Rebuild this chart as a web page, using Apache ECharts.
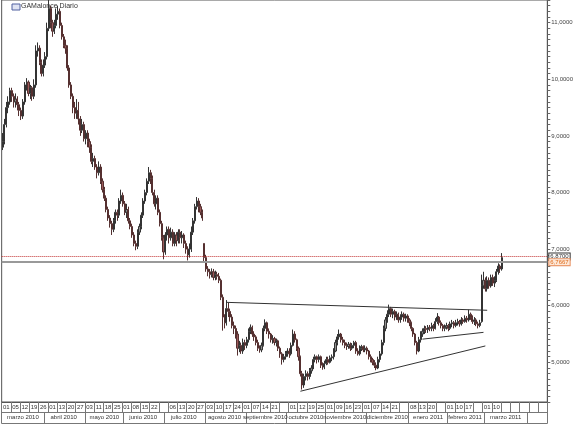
<!DOCTYPE html>
<html><head><meta charset="utf-8">
<script src="https://cdn.jsdelivr.net/npm/echarts@6/dist/echarts.min.js"></script>
<style>html,body{margin:0;padding:0;background:#fff}#c{width:576px;height:424px}</style>
</head><body><div id="c"></div>
<script>
// Week cells (Mon-Fri) label texts, in order from 2010-03-01
const tickCells = ["01","05","12","19","26","01","13","20","27","03","11","18","25","01","08","15","22","",
  "06","13","20","27","03","10","17","24","01","07","14","21","","01","12","19","25","01","09","16","23",
  "01","07","14","21","","08","13","20","","01","10","17","","01","10","","","","",""];
const monthLabels = ["marzo 2010","abril 2010","mayo 2010","junio 2010","julio 2010","agosto 2010",
  "septiembre 2010","octubre 2010","noviembre 2010","diciembre 2010","enero 2011","febrero 2011","marzo 2011"];
const titleText = "GAMalonce Diario";
// [open, close, low, high]
const ohlc = [
[8.80,8.90,8.75,9.05],[8.90,9.20,8.85,9.30],[9.20,9.50,9.15,9.60],[9.50,9.60,9.40,9.70],[9.60,9.80,9.55,9.85],
[9.80,9.70,9.60,9.85],[9.70,9.60,9.50,9.75],[9.60,9.65,9.50,9.75],[9.65,9.55,9.45,9.70],[9.55,9.45,9.35,9.60],
[9.45,9.35,9.28,9.50],[9.35,9.60,9.30,9.65],[9.60,9.90,9.55,9.95],[9.90,9.95,9.80,10.02],[9.95,9.75,9.70,9.98],
[9.75,9.85,9.65,9.90],[9.85,9.70,9.62,9.88],[9.70,9.90,9.65,10.00],[9.90,10.50,9.85,10.60],[10.50,10.55,10.40,10.65],
[10.55,10.30,10.25,10.60],[10.30,10.10,10.05,10.35],[10.10,10.25,10.05,10.35],[10.25,10.40,10.20,10.48],[10.40,10.90,10.35,11.00],
[10.90,11.25,10.85,11.40],[11.25,11.00,10.90,11.30],[11.00,10.85,10.75,11.05],[10.85,10.95,10.80,11.05],[10.95,11.15,10.90,11.25],
[11.15,11.20,11.05,11.30],[11.20,10.95,10.90,11.25],[10.95,10.75,10.70,11.00],[10.75,10.60,10.55,10.80],[10.60,10.55,10.45,10.70],
[10.55,10.20,10.15,10.60],[10.20,9.90,9.85,10.25],[9.90,9.70,9.65,9.95],[9.70,9.50,9.40,9.75],[9.50,9.40,9.30,9.60],
[9.40,9.45,9.30,9.65],[9.45,9.30,9.20,9.60],[9.30,9.10,9.00,9.35],[9.10,9.20,9.05,9.30],[9.20,8.95,8.90,9.25],
[8.95,9.05,8.85,9.10],[9.05,8.90,8.80,9.10],[8.90,8.80,8.70,8.95],[8.80,8.55,8.50,8.85],[8.55,8.60,8.45,8.70],
[8.60,8.45,8.40,8.65],[8.45,8.35,8.25,8.50],[8.35,8.45,8.30,8.55],[8.45,8.20,8.15,8.50],[8.20,8.05,8.00,8.25],
[8.05,7.90,7.85,8.10],[7.90,7.70,7.65,7.95],[7.70,7.55,7.50,7.75],[7.55,7.45,7.38,7.60],[7.45,7.35,7.25,7.50],
[7.35,7.50,7.30,7.55],[7.50,7.65,7.45,7.70],[7.65,7.60,7.50,7.70],[7.60,7.85,7.55,7.90],[7.85,7.95,7.80,8.05],
[7.95,7.80,7.75,8.00],[7.80,7.65,7.60,7.85],[7.65,7.70,7.55,7.80],[7.70,7.50,7.45,7.75],[7.50,7.40,7.35,7.55],
[7.40,7.25,7.20,7.45],[7.25,7.10,7.05,7.30],[7.10,7.05,6.98,7.15],[7.05,7.30,7.00,7.35],[7.30,7.40,7.25,7.45],
[7.40,7.60,7.35,7.65],[7.60,7.85,7.55,7.90],[7.85,8.00,7.80,8.05],[8.00,8.20,7.95,8.25],[8.20,8.35,8.15,8.45],
[8.35,8.25,8.15,8.40],[8.25,8.00,7.95,8.30],[8.00,7.80,7.75,8.05],[7.80,7.90,7.70,7.95],[7.90,7.65,7.60,7.95],
[7.65,7.45,7.40,7.70],[7.45,7.20,7.15,7.50],[7.20,6.95,6.82,7.25],[6.95,7.25,6.90,7.30],[7.25,7.35,7.15,7.40],
[7.35,7.20,7.10,7.40],[7.20,7.30,7.15,7.38],[7.30,7.10,7.05,7.35],[7.10,7.25,7.05,7.30],[7.25,7.15,7.05,7.30],
[7.15,7.30,7.10,7.35],[7.30,7.20,7.10,7.35],[7.20,7.25,7.10,7.32],[7.25,7.10,7.02,7.28],[7.10,7.00,6.92,7.15],
[7.00,6.90,6.80,7.05],[6.90,7.00,6.85,7.10],[7.00,7.30,6.95,7.40],[7.30,7.50,7.25,7.55],[7.50,7.75,7.45,7.80],
[7.75,7.85,7.70,7.92],[7.85,7.75,7.65,7.90],[7.75,7.65,7.60,7.80],[7.65,7.55,7.50,7.70],[7.10,6.85,6.78,7.10],
[6.85,6.65,6.60,6.90],[6.65,6.60,6.52,6.70],[6.60,6.55,6.48,6.65],[6.55,6.60,6.50,6.66],[6.60,6.50,6.45,6.65],
[6.50,6.55,6.45,6.62],[6.55,6.52,6.46,6.60],[6.52,6.45,6.40,6.58],[6.45,6.15,6.10,6.48],[6.15,5.80,5.56,6.20],
[5.80,5.70,5.60,5.85],[5.70,5.95,5.65,6.10],[5.95,5.90,5.80,6.05],[5.90,5.80,5.72,5.95],[5.80,5.65,5.60,5.85],
[5.65,5.60,5.50,5.72],[5.60,5.50,5.42,5.65],[5.50,5.25,5.12,5.55],[5.25,5.30,5.18,5.38],[5.30,5.20,5.15,5.35],
[5.20,5.35,5.15,5.42],[5.35,5.30,5.22,5.40],[5.30,5.40,5.25,5.45],[5.40,5.55,5.35,5.60],[5.55,5.62,5.50,5.67],
[5.62,5.50,5.45,5.65],[5.50,5.45,5.38,5.55],[5.45,5.35,5.30,5.48],[5.35,5.25,5.20,5.40],[5.25,5.22,5.17,5.30],
[5.22,5.30,5.18,5.35],[5.30,5.60,5.28,5.65],[5.60,5.70,5.55,5.76],[5.70,5.55,5.50,5.72],[5.55,5.50,5.42,5.60],
[5.50,5.40,5.35,5.52],[5.40,5.42,5.33,5.48],[5.42,5.35,5.30,5.45],[5.35,5.38,5.28,5.42],[5.38,5.25,5.20,5.40],
[5.25,5.15,5.08,5.28],[5.15,5.05,4.96,5.18],[5.05,5.10,5.00,5.15],[5.10,5.15,5.05,5.20],[5.15,5.20,5.10,5.25],
[5.20,5.15,5.08,5.25],[5.15,5.30,5.12,5.35],[5.30,5.50,5.28,5.58],[5.50,5.40,5.35,5.55],[5.40,5.25,5.20,5.42],
[5.25,5.10,5.03,5.28],[5.10,4.80,4.75,5.12],[4.80,4.60,4.52,4.85],[4.60,4.75,4.55,4.80],[4.75,4.80,4.68,4.86],
[4.80,4.75,4.68,4.84],[4.75,4.85,4.70,4.90],[4.85,4.90,4.80,4.95],[4.90,5.05,4.88,5.10],[5.05,5.10,5.00,5.14],
[5.10,5.05,4.98,5.12],[5.05,5.10,5.00,5.14],[5.10,4.95,4.90,5.12],[4.95,4.92,4.87,5.00],[4.92,4.98,4.88,5.03],
[4.98,5.05,4.95,5.10],[5.05,5.00,4.96,5.10],[5.00,5.08,4.98,5.12],[5.08,5.10,5.02,5.14],[5.10,5.20,5.05,5.25],
[5.20,5.35,5.18,5.40],[5.35,5.45,5.30,5.50],[5.45,5.50,5.40,5.58],[5.50,5.40,5.35,5.52],[5.40,5.35,5.30,5.45],
[5.35,5.30,5.25,5.40],[5.30,5.28,5.22,5.35],[5.28,5.32,5.24,5.36],[5.32,5.25,5.20,5.35],[5.25,5.30,5.22,5.34],
[5.30,5.35,5.25,5.38],[5.35,5.20,5.15,5.38],[5.20,5.15,5.12,5.25],[5.15,5.25,5.12,5.30],[5.25,5.28,5.20,5.31],
[5.28,5.22,5.18,5.30],[5.22,5.25,5.18,5.30],[5.25,5.20,5.14,5.28],[5.20,5.10,5.05,5.22],[5.10,5.05,5.00,5.14],
[5.05,5.00,4.95,5.08],[5.00,4.95,4.90,5.04],[4.95,4.90,4.86,5.00],[4.90,5.05,4.88,5.10],[5.05,5.15,5.00,5.20],
[5.15,5.35,5.12,5.40],[5.35,5.60,5.30,5.65],[5.60,5.75,5.55,5.80],[5.75,5.85,5.70,5.92],[5.85,5.95,5.80,6.02],
[5.95,5.85,5.80,5.98],[5.85,5.90,5.78,5.95],[5.90,5.80,5.74,5.93],[5.80,5.85,5.75,5.90],[5.85,5.75,5.70,5.88],
[5.75,5.80,5.70,5.85],[5.80,5.85,5.75,5.90],[5.85,5.78,5.72,5.88],[5.78,5.82,5.72,5.86],[5.82,5.75,5.70,5.85],
[5.75,5.70,5.64,5.78],[5.70,5.60,5.55,5.72],[5.60,5.50,5.45,5.62],[5.50,5.35,5.30,5.52],[5.35,5.20,5.14,5.38],
[5.20,5.40,5.18,5.45],[5.40,5.50,5.35,5.55],[5.50,5.55,5.45,5.60],[5.55,5.60,5.50,5.65],[5.60,5.58,5.52,5.64],
[5.58,5.62,5.52,5.66],[5.62,5.60,5.55,5.66],[5.60,5.65,5.55,5.70],[5.65,5.60,5.55,5.68],[5.60,5.72,5.58,5.78],
[5.72,5.80,5.68,5.87],[5.80,5.70,5.65,5.82],[5.70,5.65,5.60,5.74],[5.65,5.60,5.55,5.68],[5.60,5.62,5.55,5.67],
[5.62,5.65,5.58,5.70],[5.65,5.60,5.55,5.68],[5.60,5.68,5.57,5.72],[5.68,5.70,5.62,5.75],[5.70,5.65,5.60,5.73],
[5.65,5.70,5.62,5.75],[5.70,5.72,5.65,5.77],[5.72,5.68,5.63,5.75],[5.68,5.75,5.65,5.80],[5.75,5.72,5.68,5.78],
[5.72,5.78,5.70,5.83],[5.78,5.75,5.70,5.82],[5.75,5.85,5.72,5.93],[5.85,5.80,5.75,5.88],[5.80,5.72,5.68,5.83],
[5.72,5.75,5.66,5.80],[5.75,5.68,5.64,5.78],[5.68,5.65,5.60,5.72],[5.65,5.70,5.62,5.75],[5.72,6.35,5.70,6.55],
[6.35,6.45,6.30,6.60],[6.45,6.30,6.25,6.50],[6.30,6.45,6.25,6.52],[6.45,6.35,6.30,6.50],[6.35,6.50,6.32,6.55],
[6.50,6.40,6.35,6.55],[6.40,6.45,6.33,6.52],[6.45,6.60,6.42,6.65],[6.60,6.70,6.55,6.75],[6.70,6.65,6.58,6.73],
[6.65,6.85,6.62,6.93]
];
const levelDotted = 6.87;
const levelSolid = 6.7667;
const trendLines = [
  [["2010-08-17", 6.06], ["2011-03-02", 5.92]],
  [["2010-10-12", 4.49], ["2011-03-01", 5.29]],
  [["2011-01-12", 5.41], ["2011-02-28", 5.53]]
];

// trading-day calendar (Mon-Fri)
const dates = [];
const start = Date.UTC(2010, 2, 1);
for (let w = 0; w < tickCells.length; w++) {
  for (let d = 0; d < 5; d++) {
    const t = new Date(start + (w * 7 + d) * 86400000);
    dates.push(t.toISOString().slice(0, 10));
  }
}
const monthStarts = new Set();
const monthMid = new Map();
{
  let s = 0, m = 0;
  for (let i = 1; i <= dates.length; i++) {
    if (i === dates.length || dates[i].slice(0, 7) !== dates[i - 1].slice(0, 7)) {
      monthStarts.add(s);
      monthMid.set(Math.floor((s + i - 1) / 2), monthLabels[m]);
      m++; s = i;
    }
  }
}
const fmtNum = v => v.toFixed(4).replace('.', ',');
const font = 'Liberation Sans, Arial, sans-serif';

const chart = echarts.init(document.getElementById('c'));
chart.setOption({
  animation: false,
  backgroundColor: '#ffffff',
  grid: { left: 0, right: 24, top: 0, bottom: 22, show: true, borderColor: '#555', borderWidth: 1 },
  graphic: [
    { type: 'rect', shape: { x: 12, y: 4, width: 8, height: 6 }, style: { fill: '#dfe3f3', stroke: '#5060a0', lineWidth: 1 } },
    { type: 'text', x: 21, y: 3, style: { text: titleText, fontSize: 7, fontFamily: font, fill: '#333' } }
  ],
  xAxis: [
    { type: 'category', data: dates, position: 'bottom', boundaryGap: true,
      axisLine: { show: true, lineStyle: { color: '#555', width: 1 } },
      axisTick: { show: true, length: 10, interval: i => i % 5 === 0, lineStyle: { color: '#777' } },
      axisLabel: { interval: i => i % 5 === 2 && tickCells[Math.floor(i / 5)] !== '', formatter: (v, i) => tickCells[Math.floor(i / 5)],
        fontSize: 6, fontFamily: font, color: '#333', margin: 2 },
      splitLine: { show: false } },
    { type: 'category', data: dates, position: 'bottom', offset: 10, boundaryGap: true,
      axisLine: { show: true, lineStyle: { color: '#777', width: 1 } },
      axisTick: { show: true, length: 11, interval: i => monthStarts.has(i), lineStyle: { color: '#777' } },
      axisLabel: { interval: i => monthMid.has(i), formatter: (v, i) => monthMid.get(i) || '',
        fontSize: 6, fontFamily: font, color: '#333', margin: 2 },
      splitLine: { show: false } },
    { type: 'category', data: dates, position: 'bottom', offset: 21, boundaryGap: true,
      axisLine: { show: true, lineStyle: { color: '#777', width: 1 } },
      axisTick: { show: false }, axisLabel: { show: false } }
  ],
  yAxis: {
    type: 'value', position: 'right', min: 4.3, max: 11.4, interval: 0.1, scale: true,
    axisLine: { show: true, lineStyle: { color: '#555' } },
    axisTick: { show: true, inside: false, length: 3, lineStyle: { color: '#666' } },
    axisLabel: { fontSize: 6, fontFamily: font, color: '#444', margin: 4,
      formatter: v => Math.abs(v - Math.round(v)) < 1e-6 ? fmtNum(Math.round(v)) : '' },
    splitLine: { show: false }
  },
  series: [{
    type: 'candlestick', data: ohlc, barWidth: 1.6,
    itemStyle: { color: '#8f8f8f', color0: '#9a5a5a', borderColor: '#333333', borderColor0: '#553030', borderWidth: 1 },
    markLine: {
      silent: true, symbol: ['none', 'none'], animation: false,
      data: [
        { yAxis: levelDotted, lineStyle: { color: '#c03030', type: 'dotted', width: 1 },
          label: { show: true, position: 'end', formatter: fmtNum(levelDotted), fontSize: 6, fontFamily: font, color: '#333',
            backgroundColor: '#fff', borderColor: '#333', borderWidth: 1, padding: [0, 1], distance: 2 } },
        { yAxis: levelSolid, lineStyle: { color: '#999', type: 'solid', width: 2 },
          label: { show: true, position: 'end', formatter: fmtNum(levelSolid), fontSize: 6, fontFamily: font, color: '#e06a1a',
            backgroundColor: '#fde8d8', borderColor: '#e89060', borderWidth: 1, padding: [0, 1], distance: 2 } }
      ].concat(trendLines.map(tl => [
        { coord: tl[0], lineStyle: { color: '#333', type: 'solid', width: 1 }, label: { show: false } },
        { coord: tl[1] }
      ]))
    }
  }]
});
</script></body></html>
